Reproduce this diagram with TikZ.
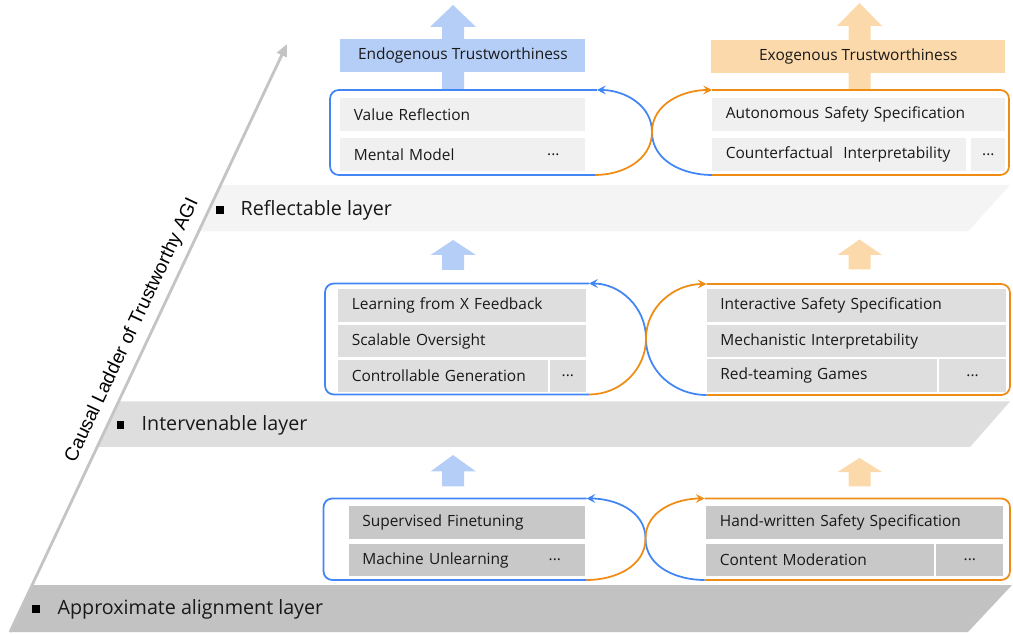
\documentclass[tikz,border=0pt]{standalone}
\usepackage{fontspec}
\setmainfont{Open Sans}
\newfontfamily\arialfont{Liberation Sans}
\usetikzlibrary{arrows.meta}

\definecolor{lineblue}{RGB}{66,133,244}
\definecolor{lineorange}{RGB}{239,140,20}
\definecolor{fillblue}{RGB}{180,206,247}
\definecolor{fillorange}{RGB}{252,217,170}
\definecolor{grayA}{RGB}{194,194,194}
\definecolor{grayB}{RGB}{222,222,222}
\definecolor{grayC}{RGB}{244,244,244}
\definecolor{itemA}{RGB}{200,200,200}
\definecolor{itemC}{RGB}{240,240,240}
\definecolor{laddergray}{RGB}{196,196,196}

\tikzset{
  item/.style={anchor=north west, minimum height=0.65cm, inner xsep=0.27cm, inner ysep=0pt, text width=#1, align=left, font=\fontsize{8.8}{10}\selectfont, text=black!90},
  dotbox/.style={anchor=north west, minimum height=0.65cm, minimum width=#1, inner sep=0pt, font=\fontsize{8.8}{10}\selectfont, text=black!90},
  banner/.style={anchor=north west, minimum height=0.65cm, inner sep=0pt, font=\fontsize{8.8}{10}\selectfont, text=black!90},
  blueline/.style={draw=lineblue, line width=1pt},
  orangeline/.style={draw=lineorange, line width=1pt},
  cyclearrow/.style={-{Stealth[length=5pt,width=5pt,inset=2pt]}},
  layertext/.style={anchor=west, font=\fontsize{11.2}{13}\selectfont, text=black!90},
  bullet/.style={fill=black, inner sep=0pt, minimum size=0.15cm},
}

\begin{document}
\begin{tikzpicture}
    \useasboundingbox (0,0) rectangle (20.26,-12.68);

    % layers
    \fill[grayC] (4.41,-3.70) -- (20.2,-3.70) -- (19.36,-4.63) -- (3.97,-4.63) -- cycle;
    \fill[grayB] (2.37,-8.03) -- (20.2,-8.03) -- (19.4,-8.94) -- (1.94,-8.94) -- cycle;
    \fill[grayA] (0.64,-11.7) -- (20.24,-11.7) -- (19.36,-12.64) -- (0.2,-12.64) -- cycle;

    % ladder
    \coordinate (lbot) at (0.2,-12.64);
    \coordinate (ltop) at (5.74,-0.88);
    \draw[laddergray, line width=1.6pt, -{Triangle[length=7pt,width=6pt]}] (lbot) -- (ltop)
        node[pos=0.5, sloped, above=1pt, text=black, font=\arialfont\fontsize{10.9}{12}\selectfont] (ladtext) {Causal Ladder of Trustworthy AGI};

    \node[bullet] (b3) at (4.4,-4.2) {};
    \node[layertext] (l3) at (4.69,-4.2) {Reflectable layer};
    \node[bullet] (b2) at (2.41,-8.5) {};
    \node[layertext] (l2) at (2.71,-8.5) {Intervenable layer};
    \node[bullet] (b1) at (0.72,-12.18) {};
    \node[layertext] (l1) at (1.03,-12.18) {Approximate alignment layer};

    % reflectable level
    \fill[fillblue] (8.84,-1.8) -- (8.84,-0.54) -- (8.6,-0.54) -- (9.06,-0.1) -- (9.52,-0.54) -- (9.28,-0.54) -- (9.28,-1.8) -- cycle;
    \fill[fillorange] (16.97,-1.8) -- (16.97,-0.52) -- (16.74,-0.52) -- (17.19,-0.06) -- (17.64,-0.52) -- (17.41,-0.52) -- (17.41,-1.8) -- cycle;
    \node[banner, fill=fillblue, minimum width=4.9cm] (endo) at (6.8,-0.78) {Endogenous Trustworthiness};
    \node[banner, fill=fillorange, minimum width=5.88cm] (exo) at (14.22,-0.8) {Exogenous Trustworthiness};

    \coordinate (bt3) at (11.94,-1.8);
    \coordinate (bb3) at (11.9,-3.5);
    \coordinate (ot3) at (14.24,-1.8);
    \coordinate (ob3) at (14.24,-3.5);
    \coordinate (x3) at (13.04,-2.64);
    \draw[blueline, rounded corners=5pt] (bt3) -- (6.6,-1.8) -- (6.6,-3.5) -- (bb3);
    \draw[orangeline, rounded corners=5pt] (ot3) -- (20.18,-1.8) -- (20.18,-3.5) -- (ob3);
    \draw[blueline, cyclearrow] (ob3) to[out=180,in=-90] (x3) to[out=90,in=0] (bt3);
    \draw[orangeline, cyclearrow] (bb3) to[out=0,in=-90] (x3) to[out=90,in=180] (ot3);

    \node[item=4.36cm, fill=itemC] (vr) at (6.8,-1.96) {Value Reflection};
    \node[item=4.36cm, fill=itemC] (mm) at (6.8,-2.76) {Mental Model};
    \node[dotbox=0.5cm] (mmdots) at (10.81,-2.76) {...};
    \node[item=5.32cm, fill=itemC] (as) at (14.24,-1.96) {Autonomous Safety Specification};
    \node[item=4.54cm, fill=itemC] (ci) at (14.24,-2.76) {Counterfactual~ Interpretability};
    \node[dotbox=0.68cm, fill=itemC] (cidots) at (19.42,-2.76) {...};

    % intervenable level
    \fill[fillblue] (8.84,-5.4) -- (8.84,-5.1) -- (8.61,-5.1) -- (9.06,-4.8) -- (9.52,-5.1) -- (9.28,-5.1) -- (9.28,-5.4) -- cycle;
    \fill[fillorange] (16.97,-5.39) -- (16.97,-5.1) -- (16.75,-5.1) -- (17.19,-4.79) -- (17.64,-5.1) -- (17.41,-5.1) -- (17.41,-5.39) -- cycle;

    \coordinate (bt2) at (11.78,-5.67);
    \coordinate (bb2) at (11.78,-7.89);
    \coordinate (ot2) at (14.13,-5.68);
    \coordinate (ob2) at (14.13,-7.9);
    \coordinate (x2) at (12.92,-6.77);
    \draw[blueline, rounded corners=5pt] (bt2) -- (6.5,-5.67) -- (6.5,-7.89) -- (bb2);
    \draw[orangeline, rounded corners=5pt] (ot2) -- (20.2,-5.68) -- (20.2,-7.9) -- (ob2);
    \draw[blueline, cyclearrow] (ob2) to[out=180,in=-90] (x2) to[out=90,in=0] (bt2);
    \draw[orangeline, cyclearrow] (bb2) to[out=0,in=-90] (x2) to[out=90,in=180] (ot2);

    \node[item=4.41cm, fill=grayB] (lxf) at (6.76,-5.78) {Learning from X Feedback};
    \node[item=4.41cm, fill=grayB] (so) at (6.76,-6.49) {Scalable Oversight};
    \node[item=3.65cm, fill=grayB] (cg) at (6.76,-7.19) {Controllable Generation};
    \node[dotbox=0.72cm, fill=grayB] (cgdots) at (10.99,-7.19) {...};
    \node[item=5.45cm, fill=grayB] (iss) at (14.13,-5.78) {Interactive Safety Specification};
    \node[item=5.45cm, fill=grayB] (mi) at (14.13,-6.49) {Mechanistic Interpretability};
    \node[item=4.06cm, fill=grayB] (rg) at (14.13,-7.18) {Red-teaming Games};
    \node[dotbox=1.35cm, fill=grayB] (rgdots) at (18.77,-7.18) {...};

    % approximate alignment level
    \fill[fillblue] (8.84,-9.73) -- (8.84,-9.43) -- (8.61,-9.43) -- (9.06,-9.1) -- (9.52,-9.43) -- (9.28,-9.43) -- (9.28,-9.73) -- cycle;
    \fill[fillorange] (16.97,-9.73) -- (16.97,-9.44) -- (16.75,-9.44) -- (17.19,-9.16) -- (17.64,-9.44) -- (17.41,-9.44) -- (17.41,-9.73) -- cycle;

    \coordinate (bt1) at (11.73,-9.97);
    \coordinate (bb1) at (11.73,-11.6);
    \coordinate (ot1) at (14.09,-9.97);
    \coordinate (ob1) at (14.09,-11.6);
    \coordinate (x1) at (12.91,-10.77);
    \draw[blueline, rounded corners=5pt] (bt1) -- (6.47,-9.97) -- (6.47,-11.6) -- (bb1);
    \draw[orangeline, rounded corners=5pt] (ot1) -- (20.2,-9.97) -- (20.2,-11.6) -- (ob1);
    \draw[blueline, cyclearrow] (ob1) to[out=180,in=-90] (x1) to[out=90,in=0] (bt1);
    \draw[orangeline, cyclearrow] (bb1) to[out=0,in=-90] (x1) to[out=90,in=180] (ot1);

    \node[item=4.19cm, fill=itemA] (sf) at (6.97,-10.12) {Supervised Finetuning};
    \node[item=4.19cm, fill=itemA] (mu) at (6.97,-10.87) {Machine Unlearning};
    \node[dotbox=0.5cm] (mudots) at (10.84,-10.87) {...};
    \node[item=5.4cm, fill=itemA] (hss) at (14.12,-10.12) {Hand-written Safety Specification};
    \node[item=4.02cm, fill=itemA] (cm) at (14.12,-10.87) {Content Moderation};
    \node[dotbox=1.34cm, fill=itemA] (cmdots) at (18.72,-10.87) {...};
\end{tikzpicture}
\end{document}
